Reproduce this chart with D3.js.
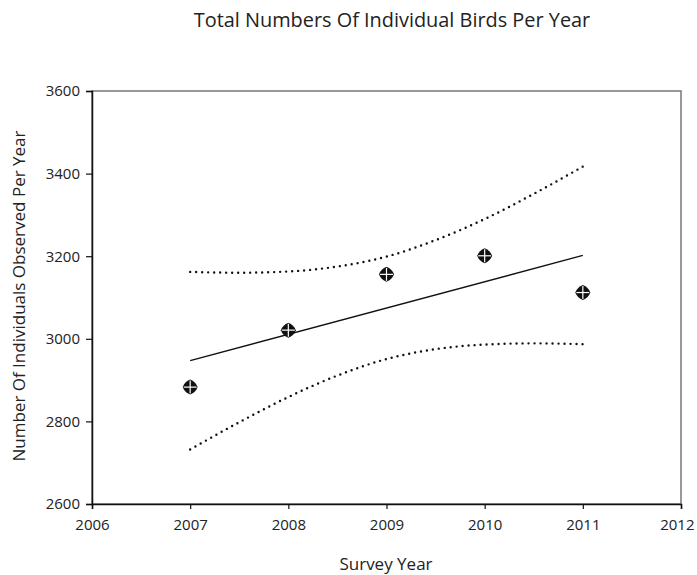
<!DOCTYPE html>
<html><head><meta charset="utf-8">
<script src="https://cdn.jsdelivr.net/npm/d3@7"></script>
<style>body{margin:0;background:#fff}svg{display:block}text{font-family:"Open Sans",sans-serif;fill:#222}</style>
</head><body><svg id="c" width="697" height="575"></svg>
<script>
// Observed totals
const years = [2007, 2008, 2009, 2010, 2011];
const counts = [2883, 3021, 3156, 3201, 3112];
// Regression line endpoints
const fitYears = [2007, 2011];
const fitValues = [2947, 3202];
// 95% confidence band
const bandYears = [2007, 2007.5, 2008, 2008.5, 2009, 2009.5, 2010, 2010.5, 2011];
const bandUpper = [3162, 3160, 3163, 3175, 3199, 3239, 3290, 3351, 3417];
const bandLower = [2732, 2798, 2859, 2911, 2951, 2975, 2986, 2989, 2987];
const xTicks = [2006, 2007, 2008, 2009, 2010, 2011, 2012];
const yTicks = [2600, 2800, 3000, 3200, 3400, 3600];

const svg = d3.select("#c");
const L = 92, R = 681, T = 91, B = 504;
const x = d3.scaleLinear().domain([2006, 2012]).range([L, R]);
const y = d3.scaleLinear().domain([2600, 3600]).range([B, T]);

svg.append("text").attr("x", 392).attr("y", 27).attr("text-anchor", "middle")
  .style("font-size", "19.9px").text("Total Numbers Of Individual Birds Per Year");

// frame
svg.append("rect").attr("x", L).attr("y", T).attr("width", R - L).attr("height", B - T)
  .attr("fill", "none").attr("stroke", "#777").attr("stroke-width", 1.5);

const xa = svg.append("g").attr("transform", `translate(0,${B})`)
  .call(d3.axisBottom(x).tickValues(xTicks).tickFormat(d3.format("d")).tickSizeOuter(0).tickSize(5).tickPadding(10));
const ya = svg.append("g").attr("transform", `translate(${L},0)`)
  .call(d3.axisLeft(y).tickValues(yTicks).tickFormat(d3.format("d")).tickSizeOuter(0).tickSize(6).tickPadding(6));
[xa, ya].forEach(g => {
  g.attr("font-size", null).attr("font-family", null);
  g.select(".domain").attr("stroke", "#111").attr("stroke-width", 1.5);
  g.selectAll(".tick line").attr("stroke", "#111").attr("stroke-width", 1.2);
  g.selectAll("text").attr("font-size", 15).style("font-size", "15px").attr("fill", "#222");
});
xa.selectAll(".tick text").filter(d => d === 2012).attr("text-anchor", "end").attr("dx", "13");

svg.append("text").attr("x", 386).attr("y", 570).attr("text-anchor", "middle")
  .style("font-size", "17px").text("Survey Year");
svg.append("text").attr("transform", "translate(25,296) rotate(-90)").attr("text-anchor", "middle")
  .style("font-size", "17px").text("Number Of Individuals Observed Per Year");

const band = d3.line().x(d => x(d[0])).y(d => y(d[1])).curve(d3.curveMonotoneX);
[bandUpper, bandLower].forEach(arr => {
  svg.append("path").datum(bandYears.map((yr, i) => [yr, arr[i]]))
    .attr("d", band).attr("fill", "none").attr("stroke", "#111")
    .attr("stroke-width", 2.4).attr("stroke-linecap", "round").attr("stroke-dasharray", "0,6");
});
svg.append("path").datum(fitYears.map((yr, i) => [yr, fitValues[i]]))
  .attr("d", d3.line().x(d => x(d[0])).y(d => y(d[1])))
  .attr("fill", "none").attr("stroke", "#111").attr("stroke-width", 1.4);

const m = svg.append("g").selectAll("g").data(years.map((yr, i) => [yr, counts[i]])).join("g")
  .attr("transform", d => `translate(${x(d[0])},${y(d[1])})`);
m.append("path").attr("d", "M0,-7.5 Q5.5,-5.5 7.5,0 Q5.5,5.5 0,7.5 Q-5.5,5.5 -7.5,0 Q-5.5,-5.5 0,-7.5Z").attr("fill", "#111");
m.append("line").attr("x1", -6.5).attr("x2", 6.5).attr("stroke", "#fff").attr("stroke-width", 1.2);
m.append("line").attr("y1", -6.5).attr("y2", 6.5).attr("stroke", "#fff").attr("stroke-width", 1.2);
</script></body></html>
